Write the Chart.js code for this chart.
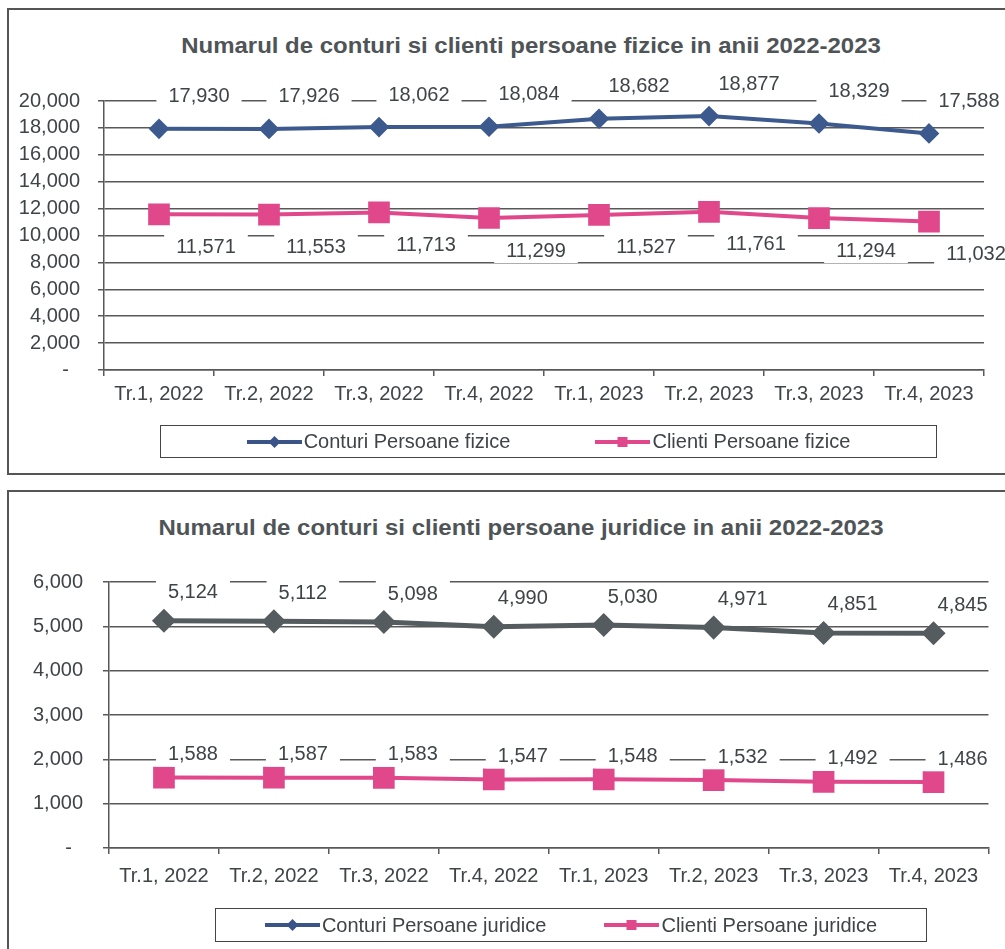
<!DOCTYPE html>
<html>
<head>
<meta charset="utf-8">
<script src="https://cdn.jsdelivr.net/npm/chart.js@4.4.0/dist/chart.umd.min.js"></script>
<style>
  body { margin: 0; width: 1005px; height: 949px; overflow: hidden; background: #fff;
         font-family: "Liberation Sans", Arial, sans-serif; color: #3f4447; position: relative; }
  .frame { position: absolute; border: 2px solid #555; }
  .title { position: absolute; transform: translateX(-50%) scaleX(1.09); white-space: nowrap;
           font-weight: bold; font-size: 22px; line-height: 24px; color: #4f5457; }
  .legend { position: absolute; box-sizing: border-box; border: 1.5px solid #444;
            display: flex; align-items: center; justify-content: center; font-size: 20px; }
  .item { display: flex; align-items: center; white-space: nowrap; }
  .item svg { margin-right: 2px; }
  canvas { position: absolute; left: 0; }
</style>
</head>
<body>
<div class="frame" style="left:7px; top:8px; width:1010px; height:463px;"></div>
<div class="frame" style="left:7px; top:490px; width:1010px; height:500px;"></div>

<div class="title" style="left:531px; top:34px;">Numarul de conturi si clienti persoane fizice in anii 2022-2023</div>
<div class="title" style="left:521px; top:516px;">Numarul de conturi si clienti persoane juridice in anii 2022-2023</div>

<canvas id="fiziceChart" width="1005" height="475" style="top:0px;"></canvas>
<canvas id="juridiceChart" width="1005" height="469" style="top:480px;"></canvas>

<div class="legend" style="left:160px; top:425px; width:777px; height:33px; gap:85px;">
  <div class="item">
    <svg width="55" height="20"><line x1="0" y1="10" x2="55" y2="10" stroke="#3b5488" stroke-width="4"/><path d="M27.5 4 L33.5 10 L27.5 16 L21.5 10Z" fill="#3b5488"/></svg>
    <span>Conturi Persoane fizice</span>
  </div>
  <div class="item">
    <svg width="55" height="20"><line x1="0" y1="10" x2="55" y2="10" stroke="#e0488b" stroke-width="4"/><rect x="22.5" y="5" width="10" height="10" fill="#e0488b"/></svg>
    <span>Clienti Persoane fizice</span>
  </div>
</div>
<div class="legend" style="left:215px; top:908px; width:712px; height:34px; gap:58px;">
  <div class="item">
    <svg width="55" height="20"><line x1="0" y1="10" x2="55" y2="10" stroke="#3b5488" stroke-width="4"/><path d="M27.5 4 L33.5 10 L27.5 16 L21.5 10Z" fill="#3b5488"/></svg>
    <span>Conturi Persoane juridice</span>
  </div>
  <div class="item">
    <svg width="55" height="20"><line x1="0" y1="10" x2="55" y2="10" stroke="#e0488b" stroke-width="4"/><rect x="22.5" y="5" width="10" height="10" fill="#e0488b"/></svg>
    <span>Clienti Persoane juridice</span>
  </div>
</div>

<script>
// quarters on the x axis
const quarters = ["Tr.1, 2022", "Tr.2, 2022", "Tr.3, 2022", "Tr.4, 2022",
                  "Tr.1, 2023", "Tr.2, 2023", "Tr.3, 2023", "Tr.4, 2023"];

// persoane fizice
const conturiFizice = [17930, 17926, 18062, 18084, 18682, 18877, 18329, 17588];
const clientiFizice = [11571, 11553, 11713, 11299, 11527, 11761, 11294, 11032];

// persoane juridice
const conturiJuridice = [5124, 5112, 5098, 4990, 5030, 4971, 4851, 4845];
const clientiJuridice = [1588, 1587, 1583, 1547, 1548, 1532, 1492, 1486];

const FONT = '"Liberation Sans", Arial, sans-serif';
const TEXT = "#3f4447";
const GRID = "#585858";

// value labels on a white box, shifted from each point
const valueLabels = {
  id: "valueLabels",
  afterDatasetsDraw(chart, args, opts) {
    const ctx = chart.ctx;
    ctx.save();
    ctx.font = "20px " + FONT;
    ctx.textAlign = "center";
    ctx.textBaseline = "middle";
    chart.data.datasets.forEach(function (ds, i) {
      const shift = opts.shifts[i];
      chart.getDatasetMeta(i).data.forEach(function (pt, j) {
        const text = ds.data[j].toLocaleString("en-US");
        const x = pt.x + shift.dx;
        const y = pt.y + shift.dy;
        const w = ctx.measureText(text).width + 24;
        ctx.fillStyle = "#fff";
        ctx.fillRect(x - w / 2, y - 13, w, 26);
        ctx.fillStyle = TEXT;
        ctx.fillText(text, x, y + 1);
      });
    });
    ctx.restore();
  },
};

function lineChart(id, datasets, yMax, step, area, shifts) {
  return new Chart(document.getElementById(id), {
    type: "line",
    data: { labels: quarters, datasets: datasets },
    plugins: [valueLabels],
    options: {
      responsive: false,
      animation: false,
      layout: { padding: { top: area.top, right: area.right, bottom: area.bottom, left: 0 } },
      plugins: {
        legend: { display: false },
        tooltip: { enabled: false },
        valueLabels: { shifts: shifts },
      },
      scales: {
        x: {
          offset: true,
          grid: { offset: true, drawOnChartArea: false, tickLength: 6, color: GRID, lineWidth: 1.5 },
          border: { color: GRID, width: 1.5 },
          ticks: { color: TEXT, font: { size: 20, family: FONT }, padding: area.xPad, maxRotation: 0, autoSkip: false },
          afterFit: function (s) { s.height = 40; },
        },
        y: {
          min: 0,
          max: yMax,
          grid: { color: GRID, lineWidth: 1.5, tickLength: 6 },
          border: { color: GRID, width: 1.5 },
          ticks: {
            stepSize: step,
            autoSkip: false,
            padding: area.yPad,
            color: TEXT,
            font: { size: 20, family: FONT },
            callback: function (v) { return v === 0 ? "-  " : v.toLocaleString("en-US"); },
          },
          afterFit: function (s) { s.width = area.left; },
        },
      },
    },
  });
}

lineChart("fiziceChart", [
  {
    label: "Conturi Persoane fizice",
    data: conturiFizice,
    borderColor: "#3c5a8e",
    backgroundColor: "#3c5a8e",
    borderWidth: 4,
    tension: 0,
    pointStyle: "rectRot",
    pointRadius: 7.5,
  },
  {
    label: "Clienti Persoane fizice",
    data: clientiFizice,
    borderColor: "#e0488b",
    backgroundColor: "#e0488b",
    borderWidth: 4,
    tension: 0,
    pointStyle: "rect",
    pointRadius: 12.5,
  },
], 20000, 2000,
  { top: 101, right: 21, bottom: 65, left: 104, yPad: 18, xPad: 6 },
  [{ dx: 40, dy: -33 }, { dx: 47, dy: 32 }]);

lineChart("juridiceChart", [
  {
    label: "Conturi Persoane juridice",
    data: conturiJuridice,
    borderColor: "#555c5f",
    backgroundColor: "#555c5f",
    borderWidth: 5,
    tension: 0,
    pointStyle: "rectRot",
    pointRadius: 8.5,
  },
  {
    label: "Clienti Persoane juridice",
    data: clientiJuridice,
    borderColor: "#e0488b",
    backgroundColor: "#e0488b",
    borderWidth: 4,
    tension: 0,
    pointStyle: "rect",
    pointRadius: 12.5,
  },
], 6000, 1000,
  { top: 102, right: 10, bottom: 61, left: 109, yPad: 20, xPad: 10 },
  [{ dx: 29, dy: -29 }, { dx: 29, dy: -24 }]);
</script>
</body>
</html>
